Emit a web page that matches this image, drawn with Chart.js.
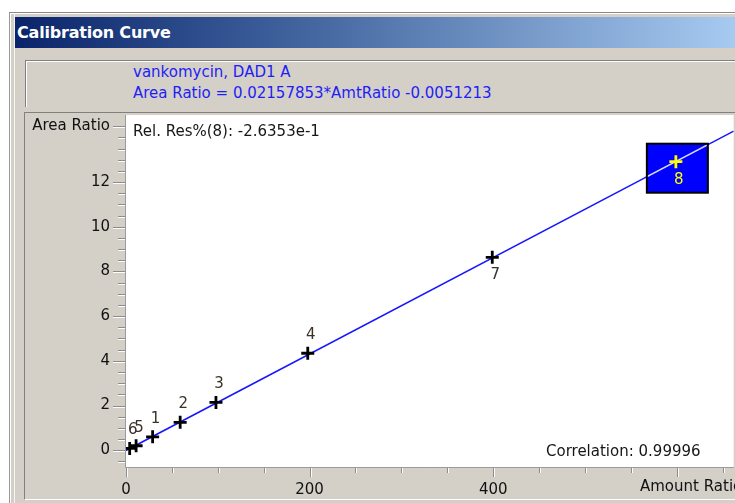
<!DOCTYPE html>
<html>
<head>
<meta charset="utf-8">
<title>Calibration Curve</title>
<script src="https://cdn.jsdelivr.net/npm/chart.js@4.4.0/dist/chart.umd.min.js"></script>
<style>
  html, body { margin: 0; padding: 0; width: 735px; height: 503px; overflow: hidden; background: #fff; font-family: "DejaVu Sans", sans-serif; }
  .abs { position: absolute; }
  #frame { left: 9px; top: 12px; width: 740px; height: 500px; background: #d4d0c8; border-top: 1px solid #8a8a8a; border-left: 1px solid #9a9a9a; box-shadow: inset 1px 1px 0 #fff, inset 4px 0 0 #d4d0c8, inset 5px 0 0 #f4f4f4; }
  #titlebar { left: 15px; top: 17px; width: 720px; height: 31px; background: linear-gradient(to right, #0a246a 0%, #3a5c98 35%, #a6caf0 100%); color: #fff; font-weight: bold; font-size: 16px; line-height: 31px; padding-left: 2px; box-sizing: border-box; letter-spacing: -0.2px; }
  #header { left: 25px; top: 60px; width: 720px; height: 46px; border-top: 1px solid #808080; border-left: 1px solid #808080; box-shadow: inset 1px 1px 0 #fff; }
  .htxt { left: 133px; color: #1e1ef5; font-size: 15px; white-space: nowrap; }
  #panel { left: 24px; top: 112px; width: 720px; height: 386px; border-top: 1px solid #808080; border-left: 1px solid #808080; border-bottom: 1px solid #fff; }
  #chart { left: 0; top: 0; z-index: 5; }
</style>
</head>
<body>
<div id="frame" class="abs"></div>
<div id="titlebar" class="abs">Calibration Curve</div>
<div id="header" class="abs"></div>
<div class="abs htxt" style="top:63px;">vankomycin, DAD1 A</div>
<div class="abs htxt" style="top:84px;">Area Ratio = 0.02157853*AmtRatio -0.0051213</div>
<div id="panel" class="abs"></div>
<canvas id="chart" class="abs" width="743" height="503"></canvas>

<script>
// calibration levels
const pointIds    = ['1', '2', '3', '4', '5', '6', '7', '8'];
const amountRatio = [29, 59, 98, 198, 11, 4, 399, 599];
const areaRatio   = [0.60, 1.25, 2.14, 4.34, 0.20, 0.08, 8.63, 12.91];

// regression line, as drawn across the plot
const fitAmount = [0, 662];
const fitArea   = [-0.01, 14.28];

// axes
const xLabelTicks = [0, 200, 400];
const yLabelTicks = [0, 2, 4, 6, 8, 10, 12];
const xMinorStep  = 50;
const yMinorStep  = 0.5;
const xRange = [0, 662];
const yRange = [-0.75, 15];

const relResText = 'Rel. Res%(8): -2.6353e-1';
const corrText   = 'Correlation: 0.99996';
const FONT = '"DejaVu Sans", sans-serif';

function stepTicks(from, to, step) {
  const out = [];
  for (let v = from; v <= to + 1e-9; v += step) out.push({ value: +v.toFixed(3) });
  return out;
}

// gray etched ticks, axis lines, white plot area, texts
const chromePlugin = {
  id: 'chrome',
  beforeDraw(chart) {
    const { ctx, chartArea: a, scales: { x, y } } = chart;
    ctx.save();
    ctx.fillStyle = '#fff';
    ctx.fillRect(a.left, a.top, a.right - a.left, a.bottom - a.top);

    // y ticks
    y.ticks.forEach(t => {
      const py = Math.round(y.getPixelForValue(t.value)) + 0.5;
      const major = yLabelTicks.includes(t.value) || t.value === 14.5;
      const len = major ? 12 : 7;
      ctx.strokeStyle = '#8c8c8c';
      ctx.lineWidth = 1;
      ctx.beginPath(); ctx.moveTo(a.left - len - 1, py); ctx.lineTo(a.left - 1, py); ctx.stroke();
      ctx.strokeStyle = '#fff';
      ctx.beginPath(); ctx.moveTo(a.left - len - 1, py + 1); ctx.lineTo(a.left - 1, py + 1); ctx.stroke();
    });
    // x ticks
    x.ticks.forEach(t => {
      const px = Math.round(x.getPixelForValue(t.value)) + 0.5;
      const major = xLabelTicks.includes(t.value) || t.value === 600;
      const len = major ? 10 : 6;
      ctx.strokeStyle = '#8c8c8c';
      ctx.lineWidth = 1;
      ctx.beginPath(); ctx.moveTo(px, a.bottom); ctx.lineTo(px, a.bottom + len); ctx.stroke();
      ctx.strokeStyle = '#fff';
      ctx.beginPath(); ctx.moveTo(px + 1, a.bottom + 1); ctx.lineTo(px + 1, a.bottom + len); ctx.stroke();
    });
    // axis lines
    ctx.strokeStyle = '#9a9a9a';
    ctx.beginPath();
    ctx.moveTo(a.left - 0.5, a.top); ctx.lineTo(a.left - 0.5, a.bottom + 0.5);
    ctx.lineTo(a.right, a.bottom + 0.5);
    ctx.stroke();

    // axis title on the x side
    ctx.fillStyle = '#111';
    ctx.font = '15px ' + FONT;
    ctx.textBaseline = 'middle';
    ctx.textAlign = 'left';
    ctx.fillText('Amount Ratio', 640, 487);
    ctx.restore();
  },
  afterDatasetDraw(chart, args) {
    // highlight box for level 8, drawn between the fit line and the markers
    if (args.index !== 1) return;
    const { ctx, scales: { x, y } } = chart;
    const p = chart.getDatasetMeta(0).data[7];
    const bx = p.x - 29, by = p.y - 18, bw = 61, bh = 49;
    ctx.save();
    ctx.fillStyle = '#0000ff';
    ctx.fillRect(bx, by, bw, bh);
    ctx.strokeStyle = '#000';
    ctx.lineWidth = 2;
    ctx.strokeRect(bx, by, bw, bh);
    ctx.beginPath();
    ctx.rect(bx + 1, by + 1, bw - 2, bh - 2);
    ctx.clip();
    ctx.strokeStyle = '#d8d8ff';
    ctx.lineWidth = 1.5;
    ctx.beginPath();
    ctx.moveTo(x.getPixelForValue(fitAmount[0]), y.getPixelForValue(fitArea[0]));
    ctx.lineTo(x.getPixelForValue(fitAmount[1]), y.getPixelForValue(fitArea[1]));
    ctx.stroke();
    ctx.restore();
  },
  afterDatasetsDraw(chart) {
    const { ctx, chartArea: a } = chart;
    const meta = chart.getDatasetMeta(0);
    ctx.save();
    ctx.font = '15px ' + FONT;
    ctx.textAlign = 'center';
    ctx.textBaseline = 'middle';
    meta.data.forEach((p, i) => {
      const id = pointIds[i];
      const below = id === '7' || id === '8';
      ctx.fillStyle = id === '8' ? '#ffff00' : '#3a3226';
      ctx.fillText(id, p.x + 3, p.y + (below ? 18 : -18));
    });
    ctx.fillStyle = '#161616';
    ctx.textAlign = 'left';
    ctx.fillText(relResText, a.left + 7, 132);
    ctx.fillText(corrText, 546, 452);
    ctx.restore();
  }
};

new Chart(document.getElementById('chart'), {
  type: 'scatter',
  data: {
    datasets: [
      {
        label: 'levels',
        data: amountRatio.map((v, i) => ({ x: v, y: areaRatio[i] })),
        pointStyle: 'cross',
        pointRadius: 6.5,
        pointBorderWidth: 2.8,
        pointBorderColor: ctx => ctx.dataIndex === 7 ? '#ffff00' : '#000',
        showLine: false
      },
      {
        label: 'fit',
        data: fitAmount.map((v, i) => ({ x: v, y: fitArea[i] })),
        showLine: true,
        borderColor: '#1717ff',
        borderWidth: 1.5,
        pointRadius: 0
      }
    ]
  },
  options: {
    responsive: false,
    animation: false,
    events: [],
    layout: { padding: { top: 115, left: 0, right: 0, bottom: 0 } },
    plugins: { legend: { display: false }, tooltip: { enabled: false } },
    scales: {
      x: {
        type: 'linear',
        min: xRange[0], max: xRange[1],
        afterBuildTicks: s => { s.ticks = stepTicks(0, 650, xMinorStep); },
        afterFit: s => { s.height = 36; },
        grid: { display: false, drawTicks: false },
        border: { display: false },
        ticks: {
          autoSkip: false, maxRotation: 0, padding: 14,
          color: '#111', font: { family: FONT, size: 15 },
          callback: v => xLabelTicks.includes(v) ? String(v) : ''
        }
      },
      y: {
        type: 'linear',
        min: yRange[0], max: yRange[1],
        afterBuildTicks: s => { s.ticks = stepTicks(-0.5, 14.5, yMinorStep); },
        afterFit: s => { s.width = 126; },
        grid: { display: false, drawTicks: false },
        border: { display: false },
        ticks: {
          autoSkip: false, padding: 16,
          color: '#111', font: { family: FONT, size: 15 },
          callback: v => yLabelTicks.includes(v) ? String(v) : (v === 14.5 ? 'Area Ratio' : '')
        }
      }
    }
  },
  plugins: [chromePlugin]
});
</script>
</body>
</html>
